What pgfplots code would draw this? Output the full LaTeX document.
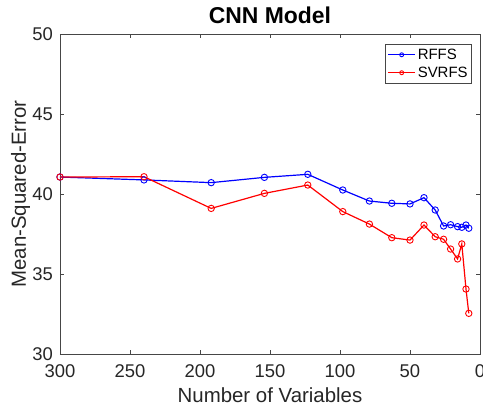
\documentclass[border=0pt]{standalone}
\usepackage{fontspec}
\setmainfont{Liberation Sans}
\usepackage{pgfplots}
\pgfplotsset{compat=1.18}
\usetikzlibrary{calc}

\definecolor{axcol}{RGB}{70,70,70}
\definecolor{txtcol}{RGB}{38,38,38}

\begin{document}
\begin{tikzpicture}
\begin{axis}[
    name=ax,
    scale only axis,
    width=420bp, height=320bp,
    x dir=reverse,
    xmin=0, xmax=300, ymin=30, ymax=50,
    xtick={0,50,...,300}, ytick={30,35,...,50},
    tick align=inside, xtick pos=both, ytick pos=both,
    major tick length=4bp,
    axis line style={axcol, line width=0.9bp},
    every tick/.style={axcol, line width=0.8bp},
    /pgf/number format/assume math mode=true,
    tick label style={font=\fontsize{18.5}{20}\selectfont, text=txtcol},
    xticklabel style={anchor=north, inner sep=0pt, yshift=-10bp},
    yticklabel style={anchor=east, inner sep=0pt, xshift=-7bp},
    title={\textbf{CNN Model}},
    title style={at={(axis description cs:0.5,1.0156)}, anchor=base, inner sep=0pt, font=\fontsize{23}{25}\selectfont},
    xlabel={Number of Variables},
    xlabel style={at={(axis description cs:0.5,-0.153)}, anchor=base, inner sep=0pt, font=\fontsize{20.5}{22}\selectfont, text=txtcol},
    ylabel={Mean-Squared-Error},
    ylabel style={at={(axis description cs:-0.081,0.5)}, anchor=base, inner sep=0pt, font=\fontsize{20.5}{22}\selectfont, text=txtcol},
    legend style={at={(axis description cs:0.981,0.969)}, anchor=north east,
        draw=axcol, line width=0.8bp, font=\fontsize{15}{17}\selectfont,
        inner xsep=2bp, inner ysep=3bp, row sep=3bp,
        nodes={inner xsep=2bp, inner ysep=1.5bp}},
    legend cell align=left,
    legend image code/.code={
        \draw[#1, mark size=2pt, mark repeat=2, mark phase=2]
            plot coordinates {(0bp,0bp) (13.5bp,0bp) (27bp,0bp)};
    },
]
\addplot[blue, line width=1.2bp, mark=o, mark size=3.2pt, mark options={line width=0.9bp}] coordinates {
    (300,41.06) (240,40.88) (192,40.71) (154,41.04) (123,41.23) (98,40.25)
    (79,39.56) (63,39.42) (50,39.38) (40,39.77) (32,39.00) (26,38.00)
    (21,38.08) (16,37.96) (13,37.92) (10,38.06) (8,37.86)
};
\addlegendentry{RFFS}
\addplot[red, line width=1.2bp, mark=o, mark size=3.2pt, mark options={line width=0.9bp}] coordinates {
    (300,41.06) (240,41.08) (192,39.10) (154,40.04) (123,40.56) (98,38.90)
    (79,38.12) (63,37.27) (50,37.12) (40,38.06) (32,37.33) (26,37.17)
    (21,36.56) (16,35.94) (13,36.88) (10,34.06) (8,32.54)
};
\addlegendentry{SVRFS}
\end{axis}
\pgfresetboundingbox
\path[use as bounding box] ($(ax.south west)+(-60bp,-56bp)$) rectangle ($(ax.north east)+(3bp,34bp)$);
\end{tikzpicture}
\end{document}
